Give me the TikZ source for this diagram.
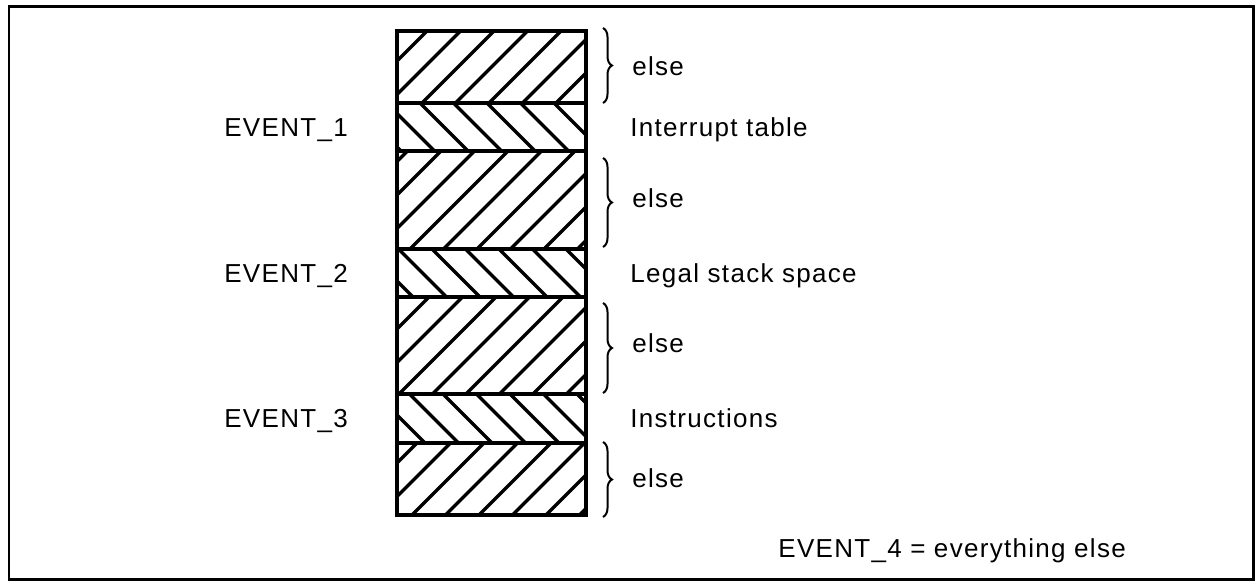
\documentclass[tikz,border=0pt]{standalone}
\usepackage{fontspec}
\setmainfont{Liberation Sans}[LetterSpace=5]
\usepackage{tikz}
\usetikzlibrary{decorations.pathreplacing}

\begin{document}
\begin{tikzpicture}[
  x=0.02cm, y=-0.02cm,
  lbl/.style={anchor=base west, inner sep=0pt, font=\fontsize{14.8}{17}\selectfont},
  hatch/.style={line width=0.068cm},
  brc/.style={decorate, decoration={brace, amplitude=0.18cm}, line width=0.04cm}
]
  \useasboundingbox (0,0) rectangle (1256,581);
  \draw[line width=0.06cm] (9,7) rectangle (1253,579);

  % "/" hatching of the else blocks
  \begin{scope}
    \clip (397,31) rectangle (586,103) (397,151) rectangle (586,249)
          (397,297) rectangle (586,394) (397,443) rectangle (586,515);
    \foreach \k in {-2,...,21}
      \draw[hatch] ({458+33.5*\k-540},540) -- ({458+33.5*\k},0);
  \end{scope}

  % "\" hatching of the event blocks
  \begin{scope}
    \clip (397,103) rectangle (586,151) (397,249) rectangle (586,297)
          (397,394) rectangle (586,443);
    \foreach \k in {-14,...,9}
      \draw[hatch] ({317+33.5*\k},0) -- ({317+33.5*\k+540},540);
  \end{scope}

  \draw[line width=0.075cm] (397,31) rectangle (586,515);
  \foreach \y in {103,151,249,297,394,443}
    \draw[line width=0.07cm] (397,\y) -- (586,\y);

  % braces
  \coordinate (b1t) at (603,28);  \coordinate (b1b) at (603,103);
  \coordinate (b2t) at (603,158); \coordinate (b2b) at (603,247);
  \coordinate (b3t) at (603,303); \coordinate (b3b) at (603,393);
  \coordinate (b4t) at (603,442); \coordinate (b4b) at (603,517);
  \draw[brc] (b1t) -- (b1b);
  \draw[brc] (b2t) -- (b2b);
  \draw[brc] (b3t) -- (b3b);
  \draw[brc] (b4t) -- (b4b);

  \node[lbl] (else1) at (632,75) {else};
  \node[lbl] (else2) at (632,207) {else};
  \node[lbl] (else3) at (632,352) {else};
  \node[lbl] (else4) at (632,487) {else};

  \node[lbl] (ev1) at (224,136) {EVENT\_1};
  \node[lbl] (ev2) at (224,282) {EVENT\_2};
  \node[lbl] (ev3) at (224,427) {EVENT\_3};

  \node[lbl] (itab) at (630,136) {Interrupt table};
  \node[lbl] (stack) at (630,282) {Legal stack space};
  \node[lbl] (instr) at (630,427) {Instructions};

  \node[lbl] (ev4) at (778,557) {EVENT\_4 = everything else};
\end{tikzpicture}
\end{document}
